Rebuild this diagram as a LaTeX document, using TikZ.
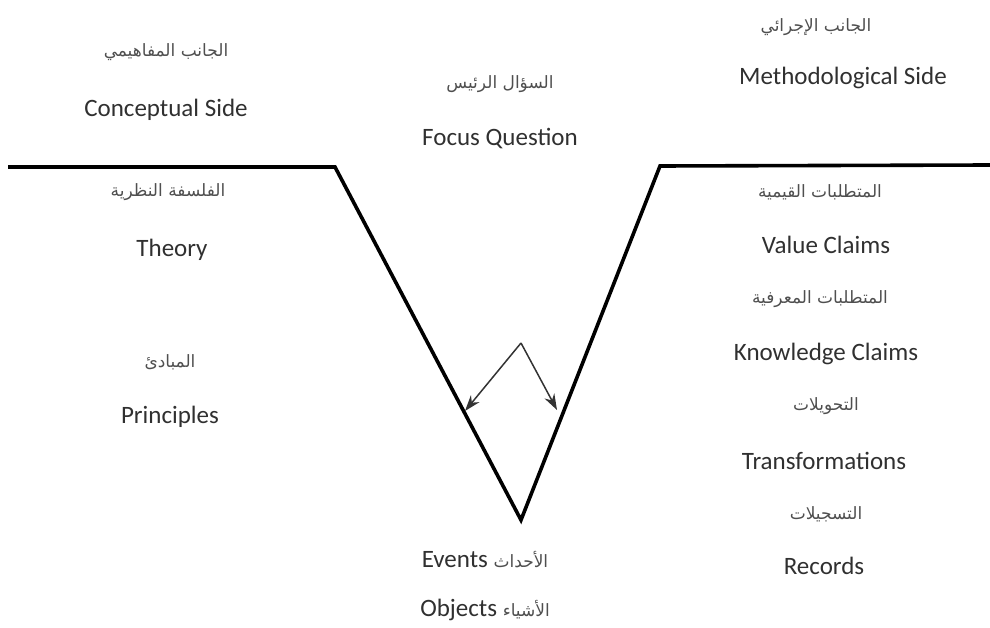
\documentclass[tikz,border=0pt]{standalone}
\usepackage{fontspec}
\setmainfont{Carlito}
\newfontfamily\arabicfont[Script=Arabic]{DejaVu Sans}
\TeXXeTstate=1
\usetikzlibrary{arrows.meta}
\definecolor{txt}{HTML}{303030}
\tikzset{
  en/.style={font=\fontsize{25}{30}\selectfont, text=txt, inner sep=0pt, anchor=center},
  ar/.style={font=\arabicfont\fontsize{17}{22}\selectfont, text=txt!85, inner sep=0pt, anchor=center},
  vline/.style={line width=3.6pt, line join=miter, black},
  arr/.style={line width=1.5pt, draw=black!80, -{Stealth[length=16pt,width=11pt]}}
}
\begin{document}
\begin{tikzpicture}[x=1pt,y=-1pt]
\useasboundingbox (0,0) rectangle (990,628);
% V shape
\coordinate (L0) at (8,167);
\coordinate (L1) at (335,167);
\coordinate (B) at (521,520);
\coordinate (R1) at (660,166);
\coordinate (R0) at (990,165);
\draw[vline] (L0) -- (L1) -- (B) -- (R1) -- (R0);
% arrows
\coordinate (apex) at (521,343);
\coordinate (tl) at (465,411);
\coordinate (tr) at (557,410);
\draw[arr] (apex) -- (tl);
\draw[arr] (apex) -- (tr);
% left column
\node[ar] (cs-ar) at (166,52) {\beginR الجانب المفاهيمي\endR};
\node[en] (cs) at (166,110) {Conceptual Side};
\node[ar] (th-ar) at (168,192) {\beginR الفلسفة النظرية\endR};
\node[en] (th) at (172,250) {Theory};
\node[ar] (pr-ar) at (170,362) {\beginR المبادئ\endR};
\node[en] (pr) at (170,417) {Principles};
% centre
\node[ar] (fq-ar) at (500,84) {\beginR السؤال الرئيس\endR};
\node[en] (fq) at (500,139) {Focus Question};
\node[en] (ev) at (485,560) {Events {\arabicfont\fontsize{17}{22}\selectfont\color{txt!85}\beginR الأحداث\endR}};
\node[en] (ob) at (485,610) {Objects {\arabicfont\fontsize{17}{22}\selectfont\color{txt!85}\beginR الأشياء\endR}};
% right column
\node[ar] (ms-ar) at (816,27) {\beginR الجانب الإجرائي\endR};
\node[en] (ms) at (843,78) {Methodological Side};
\node[ar] (vc-ar) at (820,192) {\beginR المتطلبات القيمية\endR};
\node[en] (vc) at (826,245) {Value Claims};
\node[ar] (kc-ar) at (820,299) {\beginR المتطلبات المعرفية\endR};
\node[en] (kc) at (826,354) {Knowledge Claims};
\node[ar] (tr-ar) at (826,406) {\beginR التحويلات\endR};
\node[en] (tf) at (824,461) {Transformations};
\node[ar] (rc-ar) at (826,514) {\beginR التسجيلات\endR};
\node[en] (rc) at (824,566) {Records};
\end{tikzpicture}
\end{document}
